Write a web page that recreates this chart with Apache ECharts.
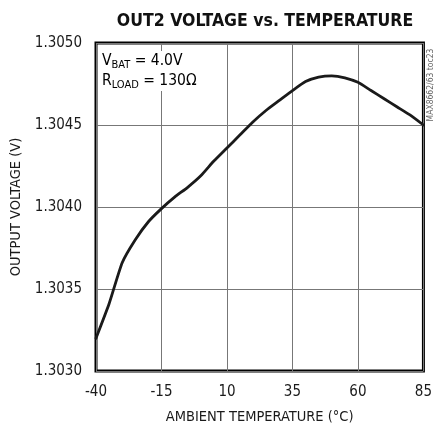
<!DOCTYPE html>
<html>
<head>
<meta charset="utf-8">
<title>OUT2 Voltage vs. Temperature</title>
<script src="https://cdn.jsdelivr.net/npm/echarts@6/dist/echarts.min.js"></script>
<style>
  html, body { margin: 0; padding: 0; background: #fff; }
  #chart { width: 435px; height: 434px; }
</style>
</head>
<body>
<div id="chart"></div>
<script>
// Ambient temperature (°C) and measured OUT2 voltage (V)
const temperatures = [-40, -35, -30, -25, -20, -15, -10, -5, 0, 5, 10, 15, 20, 25, 30, 35, 40, 45, 50, 55, 60, 65, 70, 75, 80, 85];
const out2Voltage = [1.30320, 1.30341, 1.30366, 1.30380, 1.30391, 1.30399, 1.30406, 1.30412, 1.30419, 1.30428, 1.30436, 1.30444, 1.30452, 1.30459, 1.30465, 1.30471, 1.304765, 1.304792, 1.304800, 1.304788, 1.30476, 1.30471, 1.30466, 1.30461, 1.30456, 1.30450];

// Axis tick labels
const xTickLabels = ['-40', '-15', '10', '35', '60', '85'];
const yTickLabels = ['1.3030', '1.3035', '1.3040', '1.3045', '1.3050'];

const FONT = '"Liberation Sans Narrow", "DejaVu Sans Condensed", "Roboto", sans-serif';
const INK = '#1a1a1a';

const points = temperatures.map((t, i) => [t, out2Voltage[i]]);

const chart = echarts.init(document.getElementById('chart'), null, { renderer: 'canvas' });

chart.setOption({
  animation: false,
  backgroundColor: '#fff',
  title: {
    text: 'OUT2 VOLTAGE vs. TEMPERATURE',
    left: 260,
    textAlign: 'center',
    top: 7,
    textStyle: { fontFamily: FONT, fontWeight: 'bold', fontSize: 17.5, color: '#111' }
  },
  grid: {
    left: 96, top: 43, width: 328, height: 328,
    show: true, borderColor: '#000', borderWidth: 3, backgroundColor: 'transparent'
  },
  xAxis: {
    type: 'value',
    min: -40, max: 85, interval: 25,
    name: 'AMBIENT TEMPERATURE (°C)',
    nameLocation: 'middle',
    nameGap: 39,
    nameTextStyle: { fontFamily: FONT, fontSize: 14.5, color: INK },
    axisLine: { show: false },
    axisTick: { show: false },
    axisLabel: {
      margin: 14,
      fontFamily: FONT, fontSize: 15, color: INK,
      formatter: (v) => {
        const idx = Math.round((v + 40) / 25);
        return xTickLabels[idx] !== undefined ? xTickLabels[idx] : '';
      }
    },
    splitLine: { show: true, lineStyle: { color: '#777', width: 1 } }
  },
  yAxis: {
    type: 'value',
    min: 1.303, max: 1.305, interval: 0.0005,
    name: 'OUTPUT VOLTAGE (V)',
    nameLocation: 'middle',
    nameRotate: 90,
    nameGap: 63,
    nameTextStyle: { fontFamily: FONT, fontSize: 14.5, color: INK },
    axisLine: { show: false },
    axisTick: { show: false },
    axisLabel: {
      margin: 14,
      fontFamily: FONT, fontSize: 15, color: INK,
      formatter: (v) => {
        const idx = Math.round((v - 1.303) / 0.0005);
        return yTickLabels[idx] !== undefined ? yTickLabels[idx] : '';
      }
    },
    splitLine: { show: true, lineStyle: { color: '#777', width: 1 } }
  },
  series: [{
    type: 'line',
    data: points,
    smooth: 0.18,
    showSymbol: false,
    lineStyle: { color: INK, width: 2.8, join: 'round', cap: 'round' },
    z: 5
  }],
  graphic: [
    {
      type: 'text',
      left: 100,
      top: 51,
      z: 10,
      style: {
        text: '{m|V}{s|BAT}{m| = 4.0V}\n{m|R}{s|LOAD}{m| = 130Ω}',
        backgroundColor: '#fff',
        padding: [0, 2, 0, 2],
        rich: {
          m: { fontFamily: FONT, fontSize: 15.5, lineHeight: 20, color: INK },
          s: { fontFamily: FONT, fontSize: 11, lineHeight: 20, verticalAlign: 'bottom', color: INK }
        }
      }
    },
    {
      type: 'text',
      x: 431,
      y: 85,
      rotation: Math.PI / 2,
      z: 10,
      style: {
        text: 'MAX8662/63 toc23',
        fontFamily: FONT,
        fontSize: 8.5,
        fill: '#666',
        align: 'center',
        verticalAlign: 'middle'
      }
    }
  ]
});
</script>
</body>
</html>
